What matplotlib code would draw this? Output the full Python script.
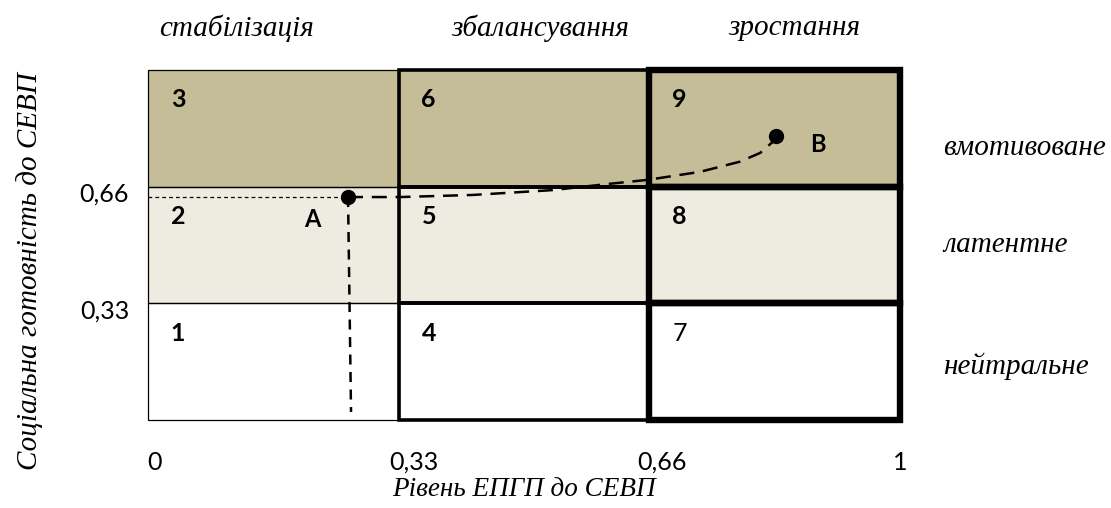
import matplotlib.pyplot as plt
from matplotlib.patches import Rectangle

# grid boundaries (share of the axis)
bounds = [0, 1/3, 2/3, 1]
x_tick_labels = ['0', '0,33', '0,66', '1']
y_tick_labels = ['0,33', '0,66']
col_labels = ['стабілізація', 'збалансування', 'зростання']
row_labels = ['нейтральне', 'латентне', 'вмотивоване']
cell_numbers = [['1', '2', '3'], ['4', '5', '6'], ['7', '8', '9']]
row_colors = ['#FFFFFF', '#EEECE1', '#C4BD97']
col_linewidths = [0.9, 2.6, 4.6]

# trajectory A -> B
point_a = (0.266, 0.637)
point_b = (0.835, 0.811)
curve_x = [0.266, 0.335, 0.432, 0.539, 0.610, 0.664, 0.734, 0.787, 0.814, 0.831, 0.835]
curve_y = [0.637, 0.637, 0.643, 0.657, 0.674, 0.686, 0.709, 0.738, 0.763, 0.795, 0.811]

serif = 'Liberation Serif'
sans = 'Lato'

fig = plt.figure(figsize=(11.11, 5.08), dpi=100)
ax = fig.add_axes([148/1111, 88/508, 752/1111, 350/508])
ax.set_xlim(0, 1)
ax.set_ylim(0, 1)
ax.axis('off')

# fills
for r in range(3):
    ax.add_patch(Rectangle((0, bounds[r]), 1, 1/3, facecolor=row_colors[r],
                           edgecolor='none', zorder=1))

# borders, thicker to the right
for c in range(3):
    for r in range(3):
        ax.add_patch(Rectangle((bounds[c], bounds[r]), 1/3, 1/3, facecolor='none',
                               edgecolor='black', linewidth=col_linewidths[c],
                               zorder=2 + c, clip_on=False))
        ax.text(bounds[c] + 0.04, bounds[r] + 1/3 - 0.085, cell_numbers[c][r],
                fontsize=18, fontfamily=sans,
                fontweight='normal' if cell_numbers[c][r] == '7' else 'bold',
                ha='center', va='center', zorder=6)

# guide lines to A
ax.plot([0, point_a[0]], [point_a[1], point_a[1]], color='black', linewidth=0.9,
        linestyle=(0, (3, 2.5)), zorder=7)
ax.plot([point_a[0], point_a[0] + 0.004], [point_a[1], 0.023], color='black',
        linewidth=1.8, linestyle=(0, (4, 3)), zorder=7)
ax.plot(curve_x, curve_y, color='black', linewidth=1.8, linestyle=(0, (6, 3.5)), zorder=7)
ax.plot(*point_a, 'o', color='black', markersize=10, zorder=8)
ax.plot(*point_b, 'o', color='black', markersize=10, zorder=8)
ax.text(0.219, 0.572, 'A', fontsize=17, fontfamily=sans, fontweight='bold',
        ha='center', va='center', zorder=8)
ax.text(0.891, 0.786, 'B', fontsize=17, fontfamily=sans, fontweight='bold',
        ha='center', va='center', zorder=8)

# tick labels
x_pos = [0.009, 0.354, 0.684, 1.0]
for x, lab in zip(x_pos, x_tick_labels):
    ax.text(x, -0.12, lab, fontsize=18, fontfamily=sans, ha='center', va='center')
for y, lab in zip(bounds[1:3], y_tick_labels):
    ax.text(-0.025, y - 0.022, lab, fontsize=18, fontfamily=sans, ha='right', va='center')

# column and row captions
for c, lab in enumerate(col_labels):
    ax.text([0.118, 0.522, 0.86][c], 1.12, lab, fontsize=21, fontfamily=serif,
            style='italic', ha='center', va='center')
for r, lab in enumerate(row_labels):
    ax.text(1.057, [0.154, 0.5, 0.777][r], lab, fontsize=21, fontfamily=serif,
            style='italic', ha='left', va='center')

ax.text(0.5, -0.2, 'Рівень ЕПГП до СЕВП', fontsize=19.5, fontfamily=serif,
        style='italic', ha='center', va='center')
ax.text(-0.157, 0.425, 'Соціальна готовність до СЕВП', fontsize=21, fontfamily=serif,
        style='italic', ha='center', va='center', rotation=90)

fig.savefig('out.png', dpi=100)
